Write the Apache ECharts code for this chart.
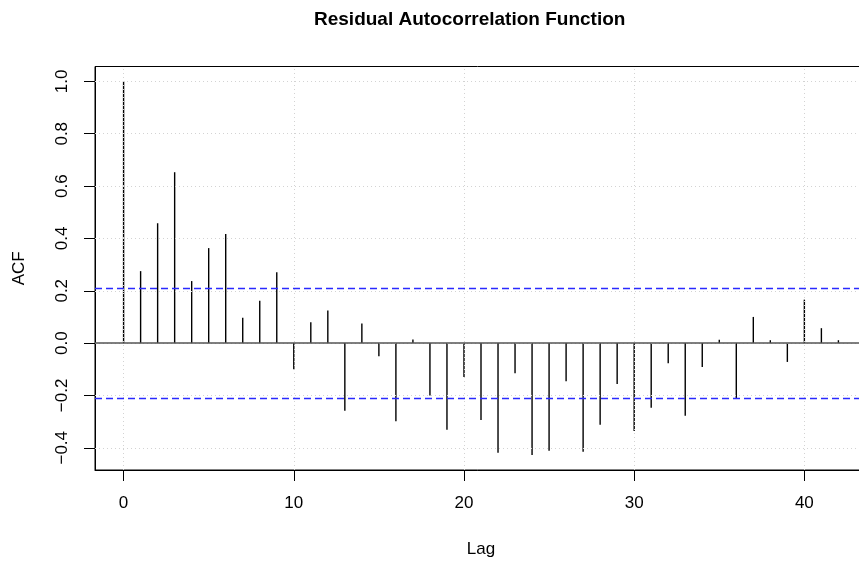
<!DOCTYPE html>
<html>
<head>
<meta charset="utf-8">
<script src="https://cdn.jsdelivr.net/npm/echarts@6/dist/echarts.min.js"></script>
<style>
html,body{margin:0;padding:0;background:#fff;}
#chart{width:859px;height:562px;}
</style>
</head>
<body>
<div id="chart"></div>
<script>
const lags = [0,1,2,3,4,5,6,7,8,9,10,11,12,13,14,15,16,17,18,19,20,21,22,23,24,25,26,27,28,29,30,31,32,33,34,35,36,37,38,39,40,41,42];
const acfValues = [1.0,0.275,0.458,0.653,0.237,0.363,0.417,0.097,0.162,0.271,
  -0.100,0.080,0.125,-0.259,0.075,-0.050,-0.299,0.014,-0.200,-0.331,
  -0.130,-0.294,-0.419,-0.115,-0.428,-0.411,-0.146,-0.415,-0.312,-0.156,
  -0.336,-0.247,-0.077,-0.278,-0.091,0.013,-0.214,0.100,0.011,-0.072,
  0.166,0.057,0.011];
const ciBound = 0.214;
const xTicks = [0,10,20,30,40];
const yTicks = [-0.4,-0.2,0.0,0.2,0.4,0.6,0.8,1.0];
const titleText = 'Residual Autocorrelation Function';
const xName = 'Lag';
const yName = 'ACF';

const xMin = -1.68, xMax = 43.68;
const yMin = -0.485, yMax = 1.057;
const font = 'Liberation Sans, Arial, Helvetica, sans-serif';
const fs = 17;

const chart = echarts.init(document.getElementById('chart'), null, {renderer:'canvas'});

const gridLines = [];
xTicks.forEach(v => gridLines.push({xAxis: v}));
yTicks.forEach(v => gridLines.push({yAxis: v}));

const option = {
  animation: false,
  backgroundColor: '#ffffff',
  title: {
    text: titleText,
    left: 309, top: 5,
    textStyle: {fontFamily: font, fontWeight: 'bold', fontSize: 19, color: '#000'}
  },
  grid: {
    left: 95, top: 66.5, right: -8, bottom: 92,
    outerBoundsMode: 'none',
    containLabel: false,
    show: true, borderColor: '#000', borderWidth: 1, backgroundColor: 'transparent'
  },
  xAxis: {
    type: 'value', min: xMin, max: xMax,
    name: xName, nameLocation: 'middle', nameGap: 71,
    nameTextStyle: {fontFamily: font, fontSize: fs, color: '#000'},
    axisLine: {show: true, onZero: false, lineStyle: {color: '#000', width: 1}},
    axisTick: {show: true, customValues: xTicks, length: 11, inside: false, lineStyle: {color: '#000'}},
    axisLabel: {customValues: xTicks, margin: 25, fontFamily: font, fontSize: fs, color: '#000'},
    splitLine: {show: false}
  },
  yAxis: {
    type: 'value', min: yMin, max: yMax,
    name: yName, nameLocation: 'middle', nameGap: 67, nameRotate: 90,
    nameTextStyle: {fontFamily: font, fontSize: fs, color: '#000'},
    axisLine: {show: true, onZero: false, lineStyle: {color: '#000', width: 1}},
    axisTick: {show: true, customValues: yTicks, length: 11, inside: false, lineStyle: {color: '#000'}},
    axisLabel: {customValues: yTicks, rotate: 90, margin: 24, fontFamily: font, fontSize: fs, color: '#000',
      formatter: v => v.toFixed(1).replace('-', '\u2212')},
    splitLine: {show: false}
  },
  series: [
    {
      type: 'scatter', data: [], silent: true, z: 1,
      markLine: {
        silent: true, symbol: 'none', label: {show: false},
        lineStyle: {color: '#d3d3d3', type: [1, 3], width: 1},
        data: gridLines
      }
    },
    {
      type: 'scatter', data: [], silent: true, z: 2,
      itemStyle: {color: '#2a2aff'},
      markLine: {
        silent: true, symbol: 'none', label: {show: false},
        lineStyle: {color: '#2a2aff', type: [7, 4], width: 1.3},
        data: [{yAxis: ciBound}, {yAxis: -ciBound}]
      }
    },
    {
      type: 'scatter', data: [], silent: true, z: 2,
      itemStyle: {color: '#555555'},
      markLine: {
        silent: true, symbol: 'none', label: {show: false},
        lineStyle: {color: '#555555', type: 'solid', width: 1.5},
        data: [{yAxis: 0}]
      }
    },
    {
      type: 'bar', barWidth: 1.4, z: 3,
      itemStyle: {color: '#000'},
      data: lags.map((l, i) => [l, acfValues[i]])
    }
  ]
};
chart.setOption(option);
</script>
</body>
</html>
